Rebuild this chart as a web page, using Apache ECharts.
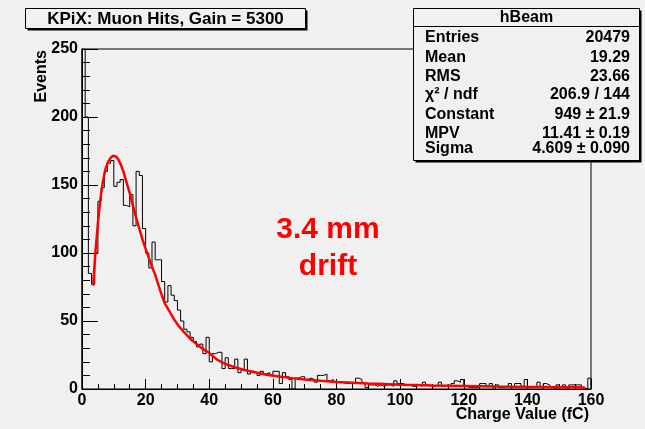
<!DOCTYPE html>
<html><head><meta charset="utf-8">
<script src="https://cdn.jsdelivr.net/npm/echarts@6/dist/echarts.min.js"></script>
<style>html,body{margin:0;padding:0;background:#f0f0f0}#c{width:645px;height:429px}</style>
</head><body><div id="c"></div>
<script>
// ---- data ----
const xMin = 0, xMax = 160, binWidth = 1;
const yMin = 0, yMax = 250;
const xTickStep = 20, yTickStep = 50;
const counts = [
  300,200,85,77,100,138,148,160,166,168,
  149,152,154,135,134,143,120,160,157,118,
  100,89,108,95,95,79,64,76,69,65,
  58,50,44,42,38,35,31,33,26,38,
  20,26,27,27,15,23,15,15,22,12,
  14,22,11,13,12,10,13,11,12,10,
  13,13,4,12,9,7,0,8,9,9,
  7,8,7,5,10,10,11,6,7,5,
  5,5,4,4,4,5,8,7,4,1,
  3,3,2,3,2,3,3,2,6,4,
  4,3,3,2,2,3,2,5,3,2,
  2,3,5,2,3,2,4,6,5,7,
  2,1,1,1,1,4,4,2,4,1,
  3,1,1,2,4,1,4,4,2,7,
  1,2,1,5,1,4,3,1,0,3,
  1,3,0,3,3,3,3,1,0,8
];
const fitX = [3.5,4.2,5,5.8,6.6,7.4,8.2,9,9.8,10.6,11.4,12.2,13,14,15,16,17,18,19,20,21.5,23,24.5,26,27.5,29,30.5,32,34,36,38,40,42.5,45,48,51,54,58,62,66,70,75,80,85,90,95,100,105,110,115,120,125,130,135,140,145,150,155,158];
const fitY = [76,100,122,140,153,162,167,170,171.5,171,169,165,160,152,144,135,126,118,110,103,93,84,73,63,57,51,46,42,37,33,29.5,26.5,21.5,18.5,16,14,12.5,10.5,9.2,8,7,6,5.2,4.6,4,3.6,3.2,2.9,2.6,2.4,2.2,2,1.8,1.7,1.5,1.4,1.3,1.2,1.1];
const titleText = 'KPiX: Muon Hits, Gain = 5300';
const statHeader = 'hBeam';
const statNames = ['Entries','Mean','RMS','χ² / ndf','Constant','MPV','Sigma'];
const statValues = ['20479','19.29','23.66','206.9 / 144','949 ± 21.9','11.41 ± 0.19','4.609 ± 0.090'];
const xTitle = 'Charge Value (fC)';
const yTitle = 'Events';
const noteLines = ['3.4 mm','drift'];

// ---- layout ----
const FONT = "'Liberation Sans', Arial, Helvetica, sans-serif";
const BG = '#f0f0f0';
const histData = [[xMin, 0]];
counts.forEach((c, i) => histData.push([xMin + i * binWidth, c]));
histData.push([xMin + counts.length * binWidth, counts[counts.length - 1]]);
histData.push([xMin + counts.length * binWidth, 0]);
const fitData = fitX.map((x, i) => [x, fitY[i]]);

const statRowY = [37.5, 57.5, 77, 95, 115, 134, 149];
const box = {x: 413.5, y: 8.5, w: 226, h: 152};

function txt(x, y, s, font, align, valign, fill, extra) {
  return Object.assign({type: 'text', x: x, y: y, z: 110, style: {
    text: s, font: font, fill: fill || '#000',
    textAlign: align, align: align, textVerticalAlign: valign, verticalAlign: valign
  }}, extra || {});
}

const graphics = [
  // title pave
  {type: 'rect', z: 100, shape: {x: 27.5, y: 10.5, width: 280, height: 20}, style: {fill: '#000'}},
  {type: 'rect', z: 101, shape: {x: 25.5, y: 8.5, width: 280, height: 20}, style: {fill: BG, stroke: '#000', lineWidth: 1}},
  txt(165.5, 19, titleText, 'bold 17px ' + FONT, 'center', 'middle'),
  // stats pave
  {type: 'rect', z: 100, shape: {x: box.x + 2, y: box.y + 2, width: box.w, height: box.h}, style: {fill: '#000'}},
  {type: 'rect', z: 101, shape: {x: box.x, y: box.y, width: box.w, height: box.h}, style: {fill: BG, stroke: '#000', lineWidth: 1}},
  {type: 'line', z: 102, shape: {x1: box.x, y1: 26.5, x2: box.x + box.w, y2: 26.5}, style: {stroke: '#000', lineWidth: 1}},
  txt(box.x + box.w / 2, 18, statHeader, 'bold 16px ' + FONT, 'center', 'middle'),
  // axis titles
  txt(589, 415, xTitle, 'bold 16px ' + FONT, 'right', 'middle'),
  txt(42, 50, yTitle, 'bold 16px ' + FONT, 'right', 'middle', '#000', {rotation: Math.PI / 2}),
  // annotation
  txt(328, 230, noteLines[0], 'bold 30px ' + FONT, 'center', 'middle', '#ff0000'),
  txt(328, 267, noteLines[1], 'bold 30px ' + FONT, 'center', 'middle', '#ff0000')
];
statNames.forEach((n, i) => {
  graphics.push(txt(425, statRowY[i], n, 'bold 16px ' + FONT, 'left', 'middle'));
  graphics.push(txt(630, statRowY[i], statValues[i], 'bold 16px ' + FONT, 'right', 'middle'));
});

const chart = echarts.init(document.getElementById('c'), null, {renderer: 'canvas'});
chart.setOption({
  animation: false,
  backgroundColor: BG,
  grid: {left: 82, top: 49, width: 509, height: 340, show: true, borderColor: '#000', borderWidth: 1, backgroundColor: 'transparent'},
  xAxis: {
    type: 'value', min: xMin, max: xMax, interval: xTickStep,
    axisLine: {show: true, onZero: false, lineStyle: {color: '#000', width: 1}},
    axisTick: {show: true, inside: true, length: 10, lineStyle: {color: '#000', width: 1}},
    minorTick: {show: true, splitNumber: 4, length: 5, lineStyle: {color: '#000', width: 1}},
    splitLine: {show: false}, minorSplitLine: {show: false},
    axisLabel: {color: '#000', fontSize: 16, fontWeight: 'bold', fontFamily: FONT, margin: 4, showMinLabel: true, showMaxLabel: true}
  },
  yAxis: {
    type: 'value', min: yMin, max: yMax, interval: yTickStep,
    axisLine: {show: true, onZero: false, lineStyle: {color: '#000', width: 1}},
    axisTick: {show: true, inside: true, length: 16, lineStyle: {color: '#000', width: 1}},
    minorTick: {show: true, splitNumber: 5, length: 8, lineStyle: {color: '#000', width: 1}},
    splitLine: {show: false}, minorSplitLine: {show: false},
    axisLabel: {color: '#000', fontSize: 16, fontWeight: 'bold', fontFamily: FONT, margin: 4, showMinLabel: true, showMaxLabel: true}
  },
  series: [
    {type: 'line', name: 'hBeam', step: 'end', data: histData, symbol: 'none', clip: true,
     lineStyle: {color: '#000', width: 1}, z: 2, silent: true},
    {type: 'line', name: 'fit', data: fitData, symbol: 'none', clip: true, smooth: false,
     lineStyle: {color: '#ff0000', width: 2.5}, z: 3, silent: true}
  ],
  graphic: graphics
});
</script>
</body></html>
